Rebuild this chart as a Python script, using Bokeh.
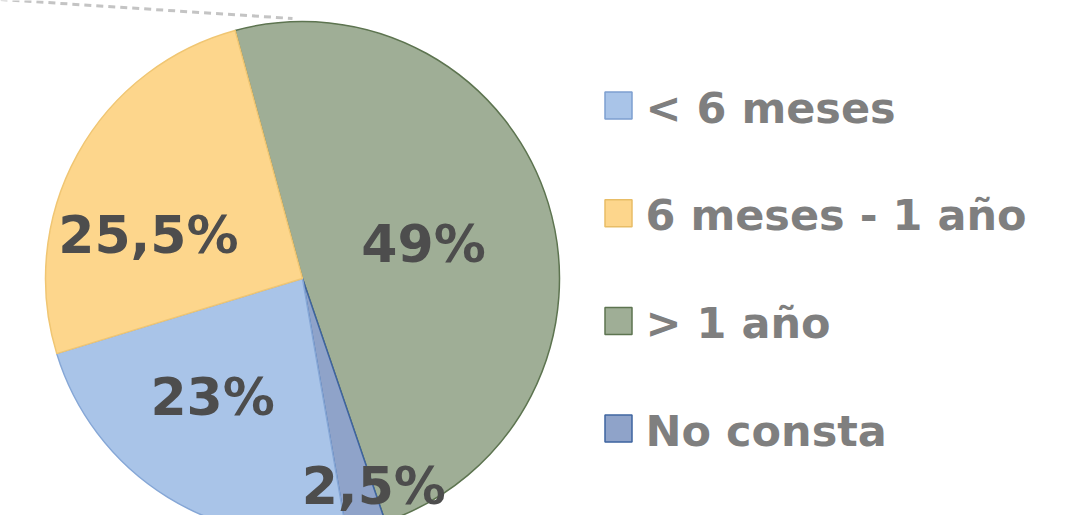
import math
from bokeh.plotting import figure
from bokeh.models import Range1d
from bokeh.core.properties import value
from bokeh.embed import file_html
from bokeh.resources import INLINE

# ---- data ----
categories = ["< 6 meses", "6 meses - 1 año", "> 1 año", "No consta"]
values = [23, 25.5, 49, 2.5]
labels = ["23%", "25,5%", "49%", "2,5%"]

# ---- styles ----
fill_colors = ["#a9c4e8", "#fdd68c", "#9fae96", "#8fa3c9"]
line_colors = ["#86a7d6", "#f0c673", "#5d7450", "#3e64a0"]
legend_line = ["#7d9fd0", "#e8bd66", "#5d7450", "#3e64a0"]
draw_order = [2, 3, 0, 1]
start_deg = 105.2          # math angle where the first slice starts
label_dist = [149, 160, 126, 219]
label_shift = [5.5, -13.3, 0.9, -4.7]   # clockwise degrees from slice middle

W, H = 1055, 515
cx, cy, R = 302, -278, 257

p = figure(width=W, height=H, x_range=Range1d(0, W), y_range=Range1d(-H, 0),
           output_backend="svg", toolbar_location=None, min_border=0)
p.axis.visible = False
p.grid.visible = False
p.outline_line_color = None
p.background_fill_color = "white"

# decorative dashed line at top-left
p.line(x=[0, 292], y=[1, -18], line_color="#c4c4c4", line_width=3, line_dash="7 5")

total = float(sum(values))
a = math.radians(start_deg)
mids = {}
for i in draw_order:
    sweep = values[i] / total * 2 * math.pi
    a_end = a - sweep
    p.wedge(x=cx, y=cy, radius=R, start_angle=a_end, end_angle=a, direction="anticlock",
            fill_color=fill_colors[i], line_color=line_colors[i], line_width=1.5)
    mids[i] = (a + a_end) / 2
    a = a_end

lx, ly = [], []
for i in range(len(values)):
    th = mids[i] - math.radians(label_shift[i])
    lx.append(cx + label_dist[i] * math.cos(th))
    ly.append(cy + label_dist[i] * math.sin(th))
p.text(x=lx, y=ly, text=labels, text_align="center", text_baseline="middle",
       text_font=value("DejaVu Sans"), text_font_style="bold", text_font_size="52px",
       text_color="#4d4d4d")

# legend
leg_x, leg_y0, leg_dy = 618, -105, -107.7
ys = [leg_y0 + k * leg_dy for k in range(len(categories))]
p.scatter(x=[leg_x] * len(categories), y=ys, marker="square", size=27,
          fill_color=fill_colors, line_color=legend_line, line_width=1.5)
p.text(x=[leg_x + 27] * len(categories), y=[y - 2 for y in ys], text=categories,
       text_align="left", text_baseline="middle",
       text_font=value("DejaVu Sans"), text_font_style="bold", text_font_size="43px",
       text_color="#7f7f7f")

open("out.html", "w").write(file_html(p, INLINE))
